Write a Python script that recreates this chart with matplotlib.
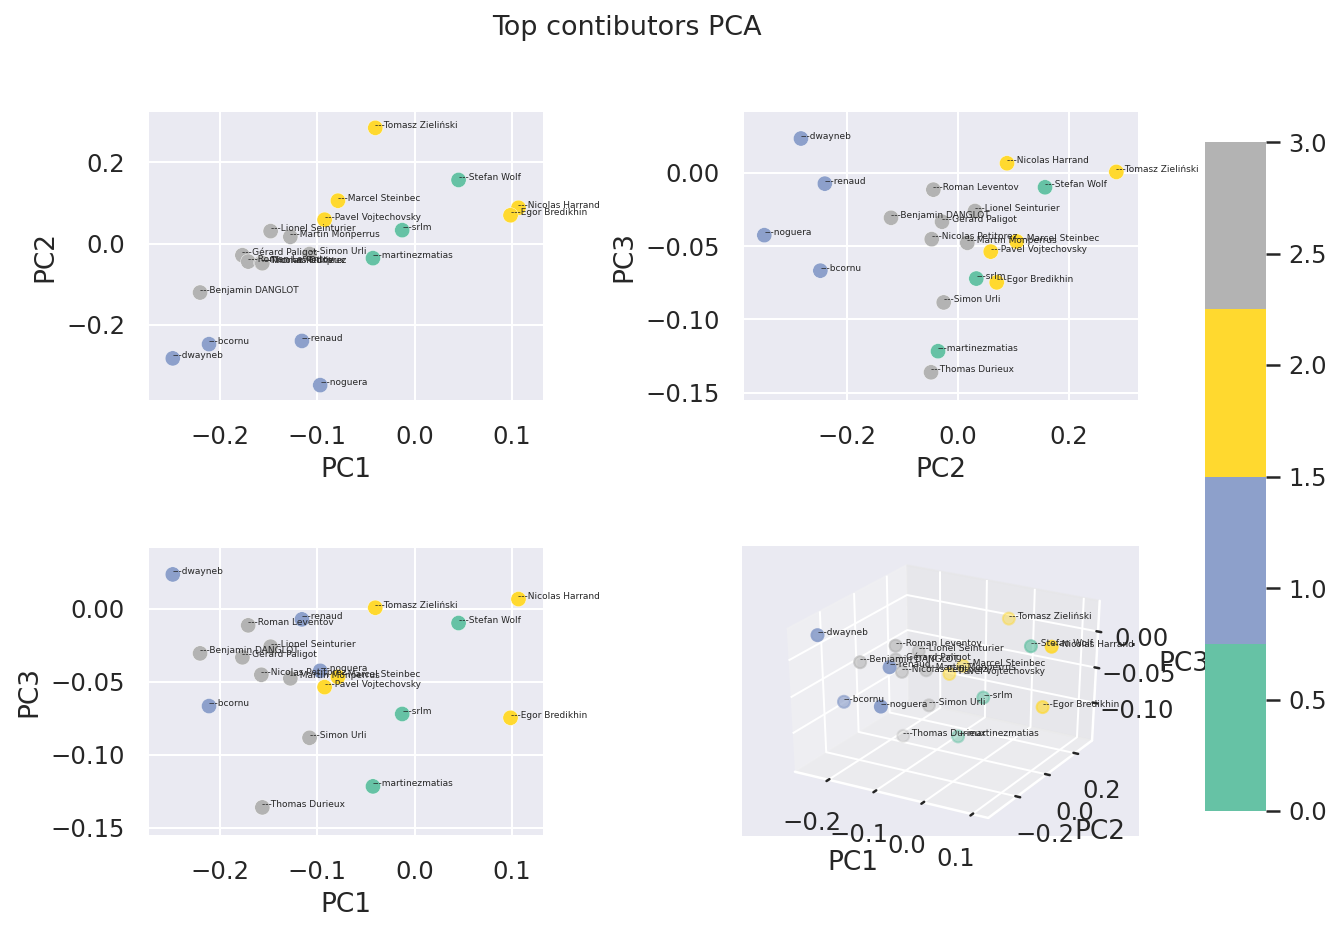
import matplotlib
matplotlib.use("Agg")
import matplotlib.pyplot as plt
from mpl_toolkits.mplot3d import Axes3D  # noqa: F401
import seaborn as sns

sns.set(font_scale=1.1)
plt.rcParams["font.family"] = ["DejaVu Sans"]

# Contributors and their PCA coordinates
names = [
    "dwayneb", "Nicolas Harrand", "Egor Bredikhin", "srlm", "noguera",
    "Marcel Steinbec", "Pavel Vojtechovsky", "Tomasz Zieliński", "Stefan Wolf",
    "martinezmatias", "renaud", "bcornu", "Benjamin DANGLOT", "Gérard Paligot",
    "Roman Leventov", "Lionel Seinturier", "Martin Monperrus",
    "Nicolas Petitprez", "Thomas Durieux", "Simon Urli",
]
clusters = [1, 2, 2, 0, 1, 2, 2, 2, 0, 0, 1, 1, 3, 3, 3, 3, 3, 3, 3, 3]
pc1 = [-0.2486, 0.1068, 0.0986, -0.0127, -0.0970, -0.0788, -0.0925, -0.0404,
       0.0452, -0.0428, -0.1158, -0.2113, -0.2205, -0.1770, -0.1710, -0.1480,
       -0.1277, -0.1575, -0.1565, -0.1080]
pc2 = [-0.2830, 0.0883, 0.0697, 0.0330, -0.3490, 0.1057, 0.0589, 0.2853,
       0.1568, -0.0360, -0.2400, -0.2480, -0.1207, -0.0288, -0.0444, 0.0306,
       0.0168, -0.0474, -0.0486, -0.0258]
pc3 = [0.0235, 0.0066, -0.0747, -0.0721, -0.0425, -0.0468, -0.0537, 0.0007,
       -0.0098, -0.1217, -0.0073, -0.0667, -0.0306, -0.0333, -0.0114, -0.0260,
       -0.0477, -0.0452, -0.1361, -0.0884]

PC1_LIM = (-0.273, 0.132)
PC2_LIM = (-0.3856, 0.3243)
PC3_LIM = (-0.155, 0.0416)

FIG_W, FIG_H = 1342, 932
cmap = plt.get_cmap("Set2", 4)


def box(left, top, right, bottom):
    return [left / FIG_W, 1 - bottom / FIG_H, (right - left) / FIG_W, (bottom - top) / FIG_H]


def panel(rect, xs, ys, xlabel, ylabel, xlim, ylim):
    ax = fig.add_axes(box(*rect))
    sc = ax.scatter(xs, ys, c=clusters, cmap=cmap, s=58, edgecolors="white", linewidths=0.2)
    for name, x, y in zip(names, xs, ys):
        ax.text(x, y, "---" + name, fontsize=4.5, clip_on=False)
    ax.set_xlim(xlim)
    ax.set_ylim(ylim)
    ax.set_xlabel(xlabel)
    ax.set_ylabel(ylabel)
    ax.spines[:].set_visible(False)
    ax.tick_params(axis="x", pad=6.5)
    ax.tick_params(axis="y", pad=6)
    return sc


fig = plt.figure(figsize=(FIG_W / 144, FIG_H / 144), dpi=144)
fig.text(627 / FIG_W, 1 - 28 / FIG_H, "Top contibutors PCA", ha="center", va="center", fontsize=13.5)

sc = panel((149, 112, 543, 400), pc1, pc2, "PC1", "PC2", PC1_LIM, PC2_LIM)
panel((744, 112, 1138, 400), pc2, pc3, "PC2", "PC3", PC2_LIM, PC3_LIM)
panel((149, 548, 543, 835), pc1, pc3, "PC1", "PC3", PC1_LIM, PC3_LIM)

# 3D panel, stretched to fill its rectangle
ax3d = fig.add_axes(box(742, 546, 1139, 836), projection="3d")
ax3d.apply_aspect = lambda position=None: None
ax3d.scatter(pc1, pc2, pc3, c=clusters, cmap=cmap, s=36)
for name, x, y, z in zip(names, pc1, pc2, pc3):
    ax3d.text(x, y, z, "---" + name, fontsize=4.5)
ax3d.set_xlim(PC1_LIM)
ax3d.set_ylim(PC2_LIM)
ax3d.set_zlim(PC3_LIM)
ax3d.set_xticks([-0.2, -0.1, 0.0, 0.1])
ax3d.set_yticks([-0.2, 0.0, 0.2])
ax3d.set_zticks([-0.10, -0.05, 0.00])
ax3d.tick_params(axis="x", pad=5)
ax3d.tick_params(axis="y", pad=5)
ax3d.tick_params(axis="z", pad=5)
ax3d.set_xlabel("PC1", labelpad=7)
ax3d.set_ylabel("PC2", labelpad=6)
ax3d.set_zlabel("PC3", labelpad=6)
ax3d.set_box_aspect((1, 1, 1), zoom=0.945)

cax = fig.add_axes(box(1205, 142, 1266, 811))
cbar = fig.colorbar(sc, cax=cax)
cbar.outline.set_visible(False)
cbar.set_ticks([0, 0.5, 1, 1.5, 2, 2.5, 3])
cax.tick_params(right=True, length=7, width=1.25, color=".15", pad=4)

fig.savefig("out.png", dpi=144)
